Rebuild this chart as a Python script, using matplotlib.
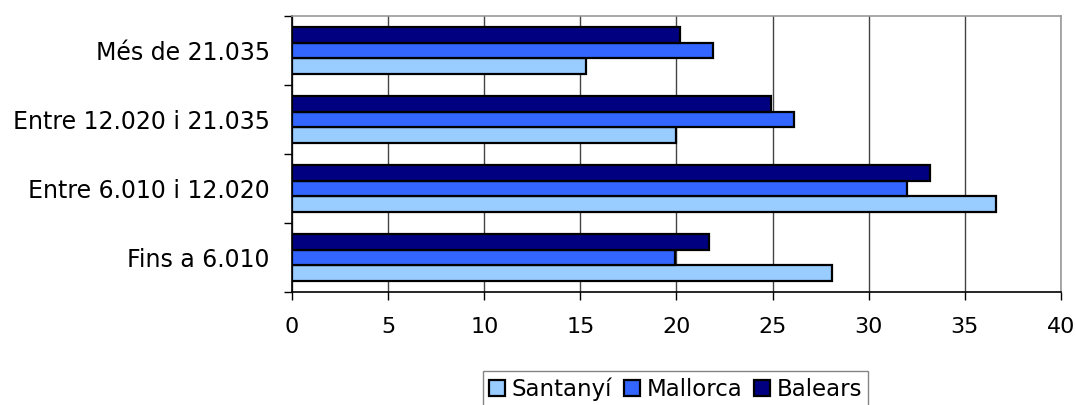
import matplotlib.pyplot as plt
import numpy as np

categories = ['Fins a 6.010', 'Entre 6.010 i 12.020', 'Entre 12.020 i 21.035', 'Més de 21.035']
santanyi = [28.1, 36.6, 19.95, 15.3]
mallorca = [19.9, 32.0, 26.1, 21.9]
balears = [21.7, 33.2, 24.9, 20.2]
series = [('Santanyí', santanyi, '#99ccff'),
          ('Mallorca', mallorca, '#3366ff'),
          ('Balears', balears, '#000080')]

fig = plt.figure(figsize=(10.76, 4.05), dpi=100)
ax = fig.add_axes([0.2714, 0.279, 0.7146, 0.6815])

y = np.arange(len(categories))
h = 0.225
for i, (name, vals, col) in enumerate(series):
    ax.barh(y + (i - 1) * h, vals, height=h, color=col, edgecolor='black',
            linewidth=1.6, label=name, zorder=3)

ax.set_xlim(0, 40)
ax.set_ylim(-0.5, len(categories) - 0.5)
ax.set_xticks(range(0, 41, 5))
ax.xaxis.grid(True, color='#444444', linewidth=1, zorder=0)

ax.set_yticks(np.arange(-0.5, len(categories), 1.0))
ax.set_yticklabels([])
ax.set_yticks(y, minor=True)
ax.set_yticklabels(categories, minor=True)
ax.tick_params(axis='y', which='minor', length=0, pad=16, labelsize=17)
ax.tick_params(axis='y', which='major', length=6, width=1, direction='out')
ax.tick_params(axis='x', length=6, width=1, direction='out', labelsize=16, pad=12)

for s in ['top', 'right']:
    ax.spines[s].set_color('#999999')
    ax.spines[s].set_linewidth(1.2)
for s in ['left', 'bottom']:
    ax.spines[s].set_color('black')
    ax.spines[s].set_linewidth(1.2)

leg = fig.legend(loc='upper center', bbox_to_anchor=(0.628, 0.083), ncol=3,
                 fontsize=16.5, frameon=True, fancybox=False, edgecolor='#666666',
                 handlelength=0.7, handleheight=0.7, handletextpad=0.3,
                 columnspacing=0.5, borderpad=0.25, borderaxespad=0)
leg.get_frame().set_linewidth(1)

fig.savefig('out.png', dpi=100)
